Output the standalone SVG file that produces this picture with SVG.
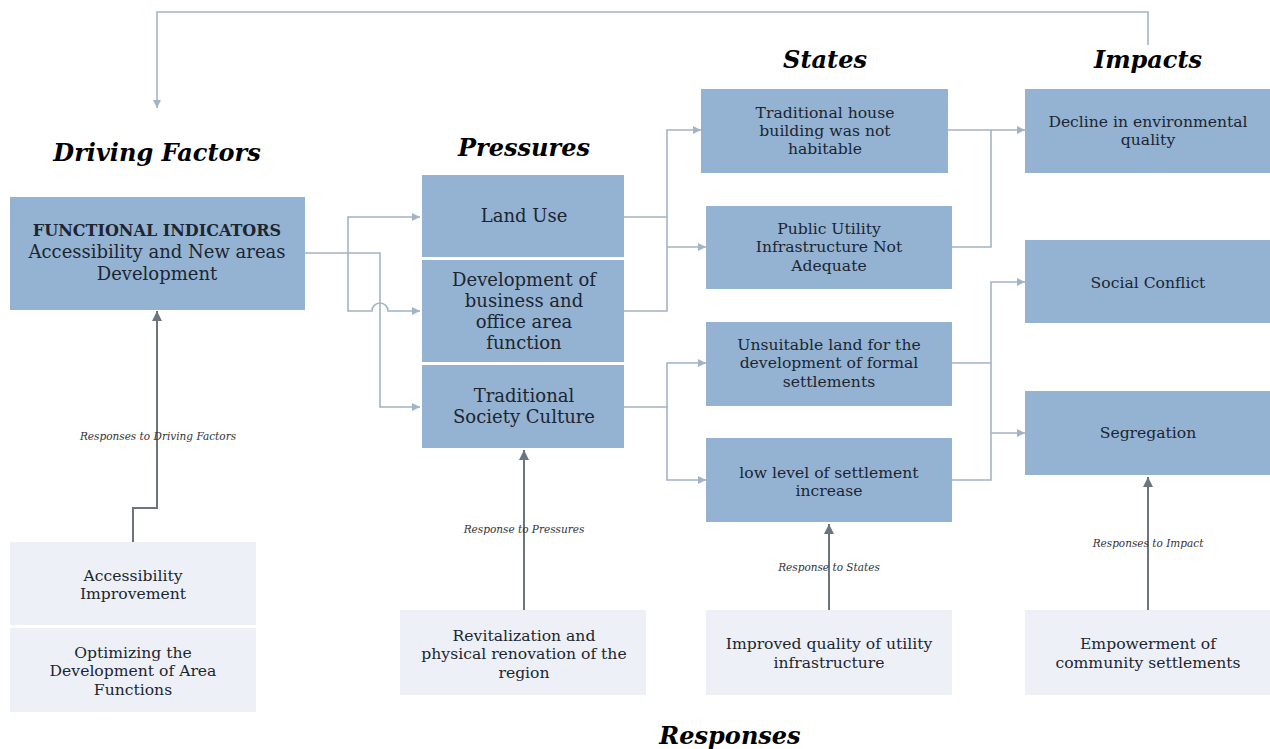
<svg xmlns="http://www.w3.org/2000/svg" width="1270" height="749" viewBox="0 0 1270 749">
<defs>
<style>
.blue{fill:#94b3d3}
.pale{fill:#edf1f7}
.t{font-family:"DejaVu Serif","Liberation Serif",serif;fill:#1c2530;text-anchor:middle}
.s15{font-size:15.6px}
.s17{font-size:18px}
.s19{font-size:18px}
.title{font-family:"DejaVu Serif","Liberation Serif",serif;font-weight:bold;font-style:italic;font-size:24px;fill:#000;text-anchor:middle}
.lbl{font-family:"DejaVu Serif","Liberation Serif",serif;font-style:italic;font-size:10.5px;fill:#333;text-anchor:middle}
.flow{fill:none;stroke:#a3b3c4;stroke-width:1.6}
.resp{fill:none;stroke:#6b7580;stroke-width:2}
</style>
<marker id="fa" viewBox="0 0 10 10" refX="10" refY="5" markerWidth="9" markerHeight="8" markerUnits="userSpaceOnUse" orient="auto"><path d="M0,0 L10,5 L0,10 z" fill="#a3b3c4"/></marker>
<marker id="ra" viewBox="0 0 10 10" refX="10" refY="5" markerWidth="11" markerHeight="10" markerUnits="userSpaceOnUse" orient="auto"><path d="M0,0 L10,5 L0,10 z" fill="#6b7580"/></marker>
</defs>
<rect width="1270" height="749" fill="#fff"/>

<g id="titles">
<text class="title" x="157" y="161">Driving Factors</text>
<text class="title" x="524" y="156">Pressures</text>
<text class="title" x="825" y="68">States</text>
<text class="title" x="1148" y="68">Impacts</text>
<text class="title" x="730" y="744">Responses</text>
</g>

<g id="connectors">
<path class="flow" d="M1148,45 V12 H157 V108" marker-end="url(#fa)"/>
<path class="flow" d="M305,253 H380 V407 H420" marker-end="url(#fa)"/>
<path class="flow" d="M348,253 V217 H420" marker-end="url(#fa)"/>
<path class="flow" d="M348,253 V311 H372 A8,8 0 0 1 388,311 H420" marker-end="url(#fa)"/>
<path class="flow" d="M624,311 H667 V130 H701" marker-end="url(#fa)"/>
<path class="flow" d="M624,217 H667"/>
<path class="flow" d="M667,247 H706" marker-end="url(#fa)"/>
<path class="flow" d="M948,130 H1025" marker-end="url(#fa)"/>
<path class="flow" d="M952,247 H991 V130"/>
<path class="flow" d="M624,407 H667 V363 H706" marker-end="url(#fa)"/>
<path class="flow" d="M667,407 V480 H706" marker-end="url(#fa)"/>
<path class="flow" d="M952,480 H991 V282 H1025" marker-end="url(#fa)"/>
<path class="flow" d="M952,363 H991"/>
<path class="flow" d="M991,433 H1025" marker-end="url(#fa)"/>
<path class="resp" d="M133,542 V508 H157 V311" marker-end="url(#ra)"/>
<path class="resp" d="M524,610 V450" marker-end="url(#ra)"/>
<path class="resp" d="M829,610 V524" marker-end="url(#ra)"/>
<path class="resp" d="M1148,610 V477" marker-end="url(#ra)"/>
<text class="lbl" x="158" y="440">Responses to Driving Factors</text>
<text class="lbl" x="524" y="533">Response to Pressures</text>
<text class="lbl" x="829" y="571">Response to States</text>
<text class="lbl" x="1148" y="547">Responses to Impact</text>
</g>

<g id="driving">
<rect class="blue" x="10" y="197" width="295" height="113"/>
<text class="t" x="157" y="236" font-weight="bold" font-size="16px">FUNCTIONAL INDICATORS</text>
<text class="t s19" x="157" y="258">Accessibility and New areas</text>
<text class="t s19" x="157" y="280">Development</text>
</g>

<g id="landuse">
<rect class="blue" x="422" y="175" width="202" height="82"/>
<text class="t s17" x="524" y="222">Land Use</text>
</g>
<g id="business">
<rect class="blue" x="422" y="260" width="202" height="102"/>
<text class="t s17" x="524" y="286">Development of</text>
<text class="t s17" x="524" y="307">business and</text>
<text class="t s17" x="524" y="328">office area</text>
<text class="t s17" x="524" y="349">function</text>
</g>
<g id="culture">
<rect class="blue" x="422" y="365" width="202" height="83"/>
<text class="t s17" x="524" y="402">Traditional</text>
<text class="t s17" x="524" y="423">Society Culture</text>
</g>

<g id="house">
<rect class="blue" x="701" y="89" width="247" height="84"/>
<text class="t s15" x="825" y="118">Traditional house</text>
<text class="t s15" x="825" y="136">building was not</text>
<text class="t s15" x="825" y="154">habitable</text>
</g>
<g id="utility">
<rect class="blue" x="706" y="206" width="246" height="83"/>
<text class="t s15" x="829" y="234">Public Utility</text>
<text class="t s15" x="829" y="252">Infrastructure Not</text>
<text class="t s15" x="829" y="271">Adequate</text>
</g>
<g id="unsuitable">
<rect class="blue" x="706" y="322" width="246" height="84"/>
<text class="t s15" x="829" y="350">Unsuitable land for the</text>
<text class="t s15" x="829" y="368">development of formal</text>
<text class="t s15" x="829" y="387">settlements</text>
</g>
<g id="lowlevel">
<rect class="blue" x="706" y="438" width="246" height="84"/>
<text class="t s15" x="829" y="478">low level of settlement</text>
<text class="t s15" x="829" y="496">increase</text>
</g>

<g id="decline">
<rect class="blue" x="1025" y="89" width="245" height="84"/>
<text class="t s15" x="1148" y="127">Decline in environmental</text>
<text class="t s15" x="1148" y="145">quality</text>
</g>
<g id="conflict">
<rect class="blue" x="1025" y="240" width="245" height="83"/>
<text class="t s15" x="1148" y="288">Social Conflict</text>
</g>
<g id="segregation">
<rect class="blue" x="1025" y="391" width="245" height="84"/>
<text class="t s15" x="1148" y="438">Segregation</text>
</g>

<g id="access">
<rect class="pale" x="10" y="542" width="246" height="83"/>
<text class="t s15" x="133" y="581">Accessibility</text>
<text class="t s15" x="133" y="599">Improvement</text>
</g>
<g id="optimizing">
<rect class="pale" x="10" y="628" width="246" height="84"/>
<text class="t s15" x="133" y="658">Optimizing the</text>
<text class="t s15" x="133" y="676">Development of Area</text>
<text class="t s15" x="133" y="695">Functions</text>
</g>
<g id="revitalization">
<rect class="pale" x="400" y="610" width="246" height="85"/>
<text class="t s15" x="524" y="641">Revitalization and</text>
<text class="t s15" x="524" y="659">physical renovation of the</text>
<text class="t s15" x="524" y="678">region</text>
</g>
<g id="improved">
<rect class="pale" x="706" y="610" width="246" height="85"/>
<text class="t s15" x="829" y="649">Improved quality of utility</text>
<text class="t s15" x="829" y="668">infrastructure</text>
</g>
<g id="empowerment">
<rect class="pale" x="1025" y="610" width="245" height="85"/>
<text class="t s15" x="1148" y="649">Empowerment of</text>
<text class="t s15" x="1148" y="668">community settlements</text>
</g>
</svg>
